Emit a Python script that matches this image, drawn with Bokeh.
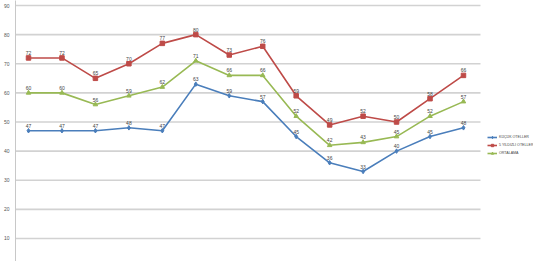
from bokeh.plotting import figure
from bokeh.models import ColumnDataSource, Range1d, FixedTicker, Legend, LegendItem
from bokeh.core.properties import value
from bokeh.embed import file_html
from bokeh.resources import INLINE

periods = list(range(1, 15))
kucuk = [47, 47, 47, 48, 47, 63, 59, 57, 45, 36, 33, 40, 45, 48]
yildiz5 = [72, 72, 65, 70, 77, 80, 73, 76, 59, 49, 52, 50, 58, 66]
ortalama = [60, 60, 56, 59, 62, 71, 66, 66, 52, 42, 43, 45, 52, 57]
series_names = ["KÜÇÜK OTELLER", "5 YILDIZLI OTELLER", "ORTALAMA"]
y_ticks = [10, 20, 30, 40, 50, 60, 70, 80, 90]

FONT = "Liberation Sans"
L = 15  # frame left in pixels
step = 33.46
x0 = 1 - (28 - L) / step
x1 = 1 + (533 - 28) / step
grid_end = 14.508

p = figure(width=533, height=261, output_backend="svg", toolbar_location=None,
           x_range=Range1d(x0, x1), y_range=Range1d(2.10, 91.72),
           min_border_left=0, min_border_right=0, min_border_top=0, min_border_bottom=0)
p.outline_line_color = None
p.xaxis.visible = False
p.xgrid.visible = False
p.ygrid.visible = False
p.segment(x0=[x0] * len(y_ticks), x1=[grid_end] * len(y_ticks), y0=y_ticks, y1=y_ticks,
          line_color="#d2d2d2", line_width=1.6)
ax = p.yaxis[0]
ax.ticker = FixedTicker(ticks=y_ticks)
ax.axis_line_color = "#c8c8c8"
ax.major_tick_line_color = None
ax.minor_tick_line_color = None
ax.major_label_text_font_size = "5px"
ax.major_label_text_font = FONT
ax.major_label_text_color = "#555555"
ax.major_label_standoff = 0

colors = ["#4a7ebb", "#be4b48", "#98b954"]
markers = ["diamond", "square", "triangle"]
items = []
for name, vals, c, m in zip(series_names, [kucuk, yildiz5, ortalama], colors, markers):
    src = ColumnDataSource(dict(x=periods, y=vals, t=[str(v) for v in vals]))
    ln = p.line("x", "y", source=src, line_color=c, line_width=1.6)
    sc = p.scatter("x", "y", source=src, marker=m, size=4.5, fill_color=c, line_color=c)
    p.text("x", "y", text="t", source=src, text_font=value(FONT), text_font_size="5px",
           text_color="#444444", text_align="center", text_baseline="bottom", y_offset=-3)
    items.append(LegendItem(label=name, renderers=[ln, sc]))

legend = Legend(items=items, location=(487 - L, 105), label_text_font=FONT, label_text_font_size="3.6px",
                label_text_color="#444444", glyph_width=10, glyph_height=6, spacing=2,
                padding=0, margin=0, label_standoff=2, border_line_color=None,
                background_fill_alpha=0, label_height=6)
p.add_layout(legend, "center")

open("out.html", "w").write(file_html(p, INLINE))
